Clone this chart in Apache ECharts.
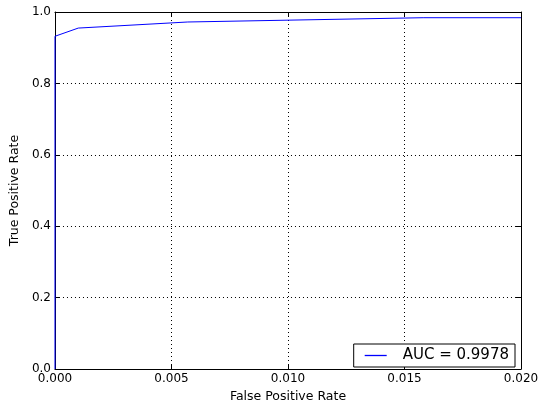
<!DOCTYPE html>
<html>
<head>
<meta charset="utf-8">
<script src="https://cdn.jsdelivr.net/npm/echarts@6/dist/echarts.min.js"></script>
<style>
  html, body { margin: 0; padding: 0; background: #fff; }
  #main { width: 549px; height: 408px; }
</style>
</head>
<body>
<div id="main"></div>
<script>
// ROC curve points
var fpr = [0, 0, 0.001, 0.0057, 0.0158, 0.02];
var tpr = [0, 0.932, 0.955, 0.972, 0.984, 0.984];
var xTicks = [0, 0.005, 0.01, 0.015, 0.02];
var yTicks = [0, 0.2, 0.4, 0.6, 0.8, 1.0];
var aucLabel = 'AUC = 0.9978';

var font = 'DejaVu Sans';
var chart = echarts.init(document.getElementById('main'));

var points = fpr.map(function(v, i) { return [v, tpr[i]]; });

function tickAxis(pos, show, min, max, step, fmt) {
    return {
        type: 'value',
        position: pos,
        min: min,
        max: max,
        interval: step,
        axisLine: { show: true, onZero: false, lineStyle: { color: '#000', width: 1 } },
        axisTick: { show: true, inside: true, length: 5, lineStyle: { color: '#000' } },
        axisLabel: {
            show: show,
            formatter: fmt,
            color: '#000',
            fontFamily: font,
            fontSize: 12,
            margin: 4
        },
        splitLine: { show: false }
    };
}

var xMain = tickAxis('bottom', true, xTicks[0], xTicks[xTicks.length - 1], xTicks[1] - xTicks[0], function(v) { return v.toFixed(3); });
xMain.name = 'False Positive Rate';
xMain.nameLocation = 'middle';
xMain.nameGap = 21;
xMain.nameTextStyle = { color: '#000', fontFamily: font, fontSize: 12.5 };
xMain.splitLine = { show: true, lineStyle: { color: '#000', type: [1, 3], width: 1 } };

var yMain = tickAxis('left', true, yTicks[0], yTicks[yTicks.length - 1], 0.2, function(v) { return v.toFixed(1); });
yMain.name = 'True Positive Rate';
yMain.nameLocation = 'middle';
yMain.nameGap = 29;
yMain.nameTextStyle = { color: '#000', fontFamily: font, fontSize: 12.5 };
yMain.splitLine = { show: true, lineStyle: { color: '#000', type: [1, 3], width: 1 } };

var option = {
    backgroundColor: '#fff',
    animation: false,
    grid: { left: 54, top: 12, right: 28, bottom: 35, containLabel: false },
    legend: {
        right: 34,
        bottom: 41,
        data: [aucLabel],
        orient: 'vertical',
        itemWidth: 22,
        itemHeight: 10,
        itemGap: 0,
        padding: [4, 6, 4, 11],
        borderColor: '#000',
        borderWidth: 1,
        borderRadius: 0,
        backgroundColor: '#fff',
        icon: 'path://M0,0L22,0L22,1.3L0,1.3Z',
        itemStyle: { color: '#0000ff', borderWidth: 0 },
        textStyle: { color: '#000', fontFamily: font, fontSize: 15, padding: [0, 0, 0, 11] }
    },
    xAxis: [xMain, tickAxis('top', false, 0, 0.02, 0.005)],
    yAxis: [yMain, tickAxis('right', false, 0, 1, 0.2)],
    series: [{
        name: aucLabel,
        type: 'line',
        data: points,
        symbol: 'none',
        clip: true,
        lineStyle: { color: '#0000ff', width: 1 },
        itemStyle: { color: '#0000ff' }
    }]
};

chart.setOption(option);
</script>
</body>
</html>
